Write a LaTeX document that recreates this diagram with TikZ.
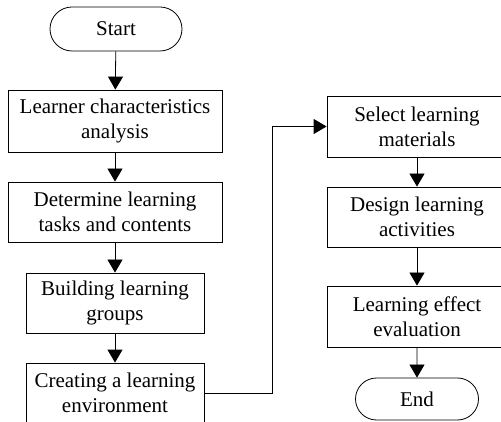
\documentclass[tikz,border=0pt]{standalone}
\usepackage{fontspec}
\setmainfont{Liberation Serif}
\usetikzlibrary{arrows.meta,shapes.misc}
\begin{document}
\begin{tikzpicture}[x=1pt,y=1pt,
  every node/.style={font=\fontsize{21}{25}\selectfont, inner sep=0pt, align=center},
  procbox/.style={draw, line width=0.8pt, minimum height=60pt},
  termbox/.style={draw, line width=0.8pt, rounded rectangle},
  arr/.style={draw, line width=0.8pt, -{Triangle[length=13pt,width=15pt]}}]
\useasboundingbox (0,0) rectangle (501,-422);
\clip (0,0) rectangle (501,-422);
\node[termbox, minimum width=132pt, minimum height=44pt] (start) at (116,-29) {Start};
\node[procbox, minimum width=214pt, minimum height=62pt] (b1) at (115,-121) {Learner characteristics\\analysis};
\node[procbox, minimum width=214pt] (b2) at (115,-212) {Determine learning\\tasks and contents};
\node[procbox, minimum width=178pt] (b3) at (115,-303) {Building learning\\groups};
\node[procbox, minimum width=178pt] (b4) at (115,-393) {Creating a learning\\environment};
\node[procbox, minimum width=180pt, minimum height=61pt] (b5) at (417,-126.5) {Select learning\\materials};
\node[procbox, minimum width=180pt] (b6) at (417,-217) {Design learning\\activities};
\node[procbox, minimum width=180pt, minimum height=61pt] (b7) at (417,-316.5) {Learning effect\\evaluation};
\node[termbox, minimum width=123pt, minimum height=42pt] (end) at (417,-399) {End};
\draw[arr] (start) -- (b1);
\draw[arr] (b1) -- (b2);
\draw[arr] (b2) -- (b3);
\draw[arr] (b3) -- (b4);
\coordinate (turn) at (272,-393);
\draw[arr] (b4.east) -- (turn) |- (b5.west);
\draw[arr] (b5) -- (b6);
\draw[arr] (b6) -- (b7);
\draw[arr] (b7) -- (end);
\end{tikzpicture}
\end{document}
